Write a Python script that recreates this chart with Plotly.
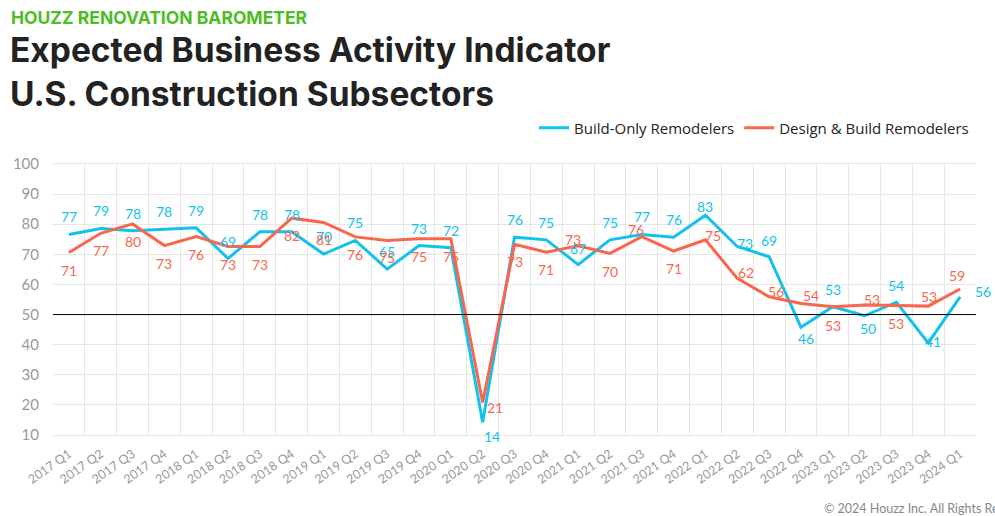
import plotly.graph_objects as go

quarters = ["2017 Q1","2017 Q2","2017 Q3","2017 Q4","2018 Q1","2018 Q2","2018 Q3","2018 Q4",
            "2019 Q1","2019 Q2","2019 Q3","2019 Q4","2020 Q1","2020 Q2","2020 Q3","2020 Q4",
            "2021 Q1","2021 Q2","2021 Q3","2021 Q4","2022 Q1","2022 Q2","2022 Q3","2022 Q4",
            "2023 Q1","2023 Q2","2023 Q3","2023 Q4","2024 Q1"]

build_only = [76.6, 78.6, 77.8, 78.4, 78.8, 68.6, 77.5, 77.5, 70.1, 74.6, 65.1, 72.9, 72.2, 14.2,
              75.7, 74.8, 66.6, 74.8, 76.6, 75.7, 83.0, 72.6, 69.2, 45.8, 52.6, 49.6, 54.1, 40.6, 55.9]
build_only_labels = ["77","79","78","78","79","69","78","78","70","75","65","73","72","14",
                     "76","75","67","75","77","76","83","73","69","46","53","50","54","41","56"]

design_build = [70.6, 77.0, 80.1, 72.9, 75.9, 72.6, 72.6, 82.0, 80.6, 75.8, 74.6, 75.2, 75.2, 20.8,
                73.3, 70.7, 72.8, 70.3, 75.9, 71.1, 74.8, 62.0, 55.9, 53.7, 52.6, 53.2, 53.0, 52.8, 58.5]
design_build_labels = ["71","77","80","73","76","73","73","82","81","76","75","75","75","21",
                       "73","71","73","70","76","71","75","62","56","54","53","53","53","53","59"]

# label offsets in pixels (dx right, dy down) -- styling only
build_only_dx = [0]*13 + [9, 0, 0, 0, 0, 0, 0, 0, 7.5, 0, 5, 0, 3.5, 0, 5, 23]
build_only_dy = [-17.5]*13 + [14, -17.3, -17, -16, -17.3, -18, -17.3, -9, -3, -16.7, 11, -17.3, 12.3, -16.3, -1, -5.7]
design_build_dx = [0]*13 + [12, 0, 0, -5.5, 0, -6, 0, 7.6, 8.5, 7, 10, 0, 7.5, 0, 1, -3.5]
design_build_dy = [17.5]*13 + [5, 17, 17.7, -6, 18.3, -7.4, 17.3, -4, -6, -5, -8, 18.3, -5, 18.3, -9.3, -13.3]

BLUE = "#12C2EC"
RED = "#F8664D"

fig = go.Figure()
fig.add_trace(go.Scatter(x=quarters, y=build_only, name="Build-Only Remodelers",
                         mode="lines", line=dict(color=BLUE, width=3)))
fig.add_trace(go.Scatter(x=quarters, y=design_build, name="Design & Build Remodelers",
                         mode="lines", line=dict(color=RED, width=3)))

fig.add_shape(type="line", xref="paper", yref="y", x0=0, x1=1, y0=50, y1=50,
              line=dict(color="black", width=1))

annotations = []
for q, v, t, dx, dy in zip(quarters, build_only, build_only_labels, build_only_dx, build_only_dy):
    annotations.append(dict(x=q, y=v, text=t, showarrow=False, xanchor="center", yanchor="middle",
                            xshift=dx, yshift=-dy, font=dict(size=14, color=BLUE, family="Lato")))
for q, v, t, dx, dy in zip(quarters, design_build, design_build_labels, design_build_dx, design_build_dy):
    annotations.append(dict(x=q, y=v, text=t, showarrow=False, xanchor="center", yanchor="middle",
                            xshift=dx, yshift=-dy, font=dict(size=14, color=RED, family="Lato")))

# plot area in page pixels: x 53..976, y 164..435
annotations += [
    dict(text="<b>HOUZZ RENOVATION BAROMETER</b>", xref="paper", yref="paper",
         x=(9-53)/923, y=1 + (164-17)/271, xanchor="left", yanchor="middle", showarrow=False,
         font=dict(size=17.5, color="#4DBD1F", family="Inter")),
    dict(text="<b>Expected Business Activity Indicator</b>", xref="paper", yref="paper",
         x=(8-53)/923, y=1 + (164-50)/271, xanchor="left", yanchor="middle", showarrow=False,
         font=dict(size=33.5, color="#222222", family="Inter")),
    dict(text="<b>U.S. Construction Subsectors</b>", xref="paper", yref="paper",
         x=(8-53)/923, y=1 + (164-94)/271, xanchor="left", yanchor="middle", showarrow=False,
         font=dict(size=33.5, color="#222222", family="Inter")),
    dict(text="© 2024 Houzz Inc. All Rights Reserved", xref="paper", yref="paper",
         x=(822-53)/923, y=-(508-435)/271, xanchor="left", yanchor="middle", showarrow=False,
         font=dict(size=12.5, color="#888888", family="Lato")),
]

fig.update_layout(
    width=995, height=516,
    margin=dict(l=53, r=19, t=164, b=81),
    paper_bgcolor="white", plot_bgcolor="white",
    font=dict(family="Lato", color="#333"),
    showlegend=True,
    legend=dict(orientation="h", x=(974-53)/923, xanchor="right", y=1 + (164-128)/271, yanchor="middle",
                font=dict(size=15, color="#222", family="Open Sans"),
                traceorder="normal", bgcolor="rgba(0,0,0,0)"),
    xaxis=dict(type="category", tickson="boundaries", showgrid=True, gridcolor="#E6E6E6",
               gridwidth=1, tickangle=-35, tickfont=dict(size=12.5, color="#999999", family="Lato"),
               showline=True, linecolor="#E6E6E6", mirror=True, ticks="", automargin=False,
               ticklabelstandoff=6, range=[-0.5, len(quarters)-0.5]),
    yaxis=dict(range=[10, 100], dtick=10, showgrid=True, gridcolor="#E6E6E6",
               tickfont=dict(size=15, color="#999999", family="Lato"), ticks="", zeroline=False,
               showline=False, ticklabelstandoff=13, automargin=False),
    annotations=annotations,
)

fig.write_html("out.html", config={"displayModeBar": False},
               post_script="document.body.style.margin='0';document.body.style.overflow='hidden';")
